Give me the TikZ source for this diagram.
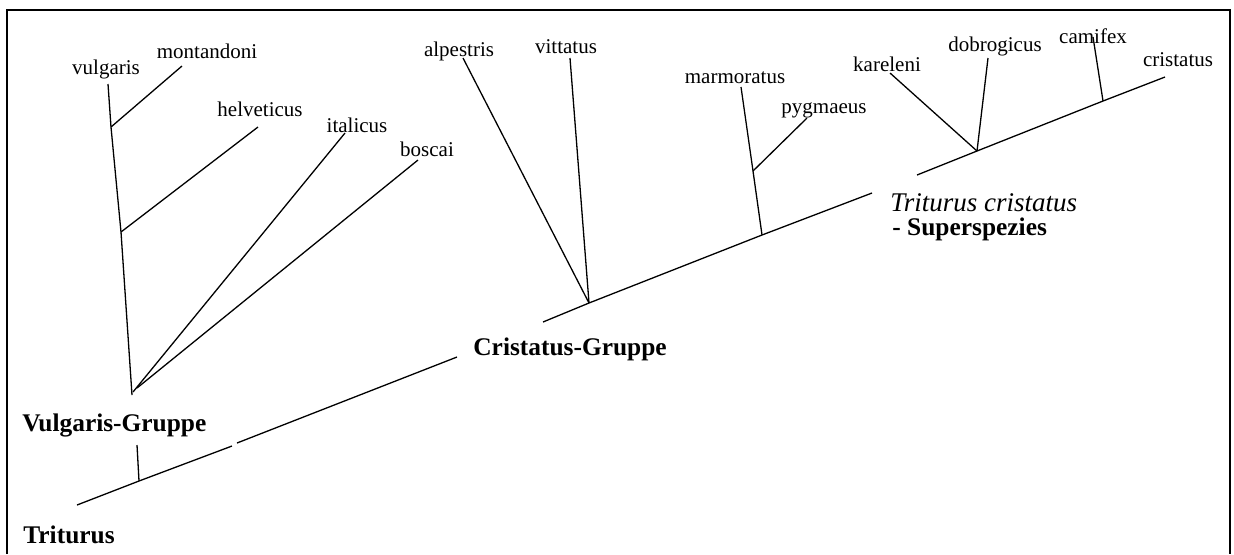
\documentclass[tikz,border=0pt]{standalone}
\usepackage{fontspec}
\setmainfont{Liberation Serif}
\begin{document}
\begin{tikzpicture}[x=0.5pt,y=-0.5pt,
  branch/.style={line width=0.65pt},
  frame/.style={line width=1.3pt},
  sp/.style={font=\fontsize{10.5}{12}\selectfont, inner sep=0pt, anchor=base},
  grp/.style={font=\fontsize{12.7}{14}\selectfont\bfseries, inner sep=0pt, anchor=base west},
  itl/.style={font=\fontsize{13.5}{15}\selectfont\itshape, inner sep=0pt, anchor=base west},
]
\useasboundingbox (0,0) rectangle (1234,554);
\draw[frame] (7,554) -- (7,10) -- (1230,10) -- (1230,554);

% species labels
\node[sp] (lvul) at (106,74) {vulgaris};
\node[sp] (lmon) at (207,58) {montandoni};
\node[sp] (lhel) at (260,116) {helveticus};
\node[sp] (lita) at (357,132) {italicus};
\node[sp] (lbos) at (427,156) {boscai};
\node[sp] (lalp) at (459,56) {alpestris};
\node[sp] (lvit) at (566,53) {vittatus};
\node[sp] (lmar) at (735,83) {marmoratus};
\node[sp] (lpyg) at (824,113) {pygmaeus};
\node[sp] (lkar) at (887,71) {kareleni};
\node[sp] (ldob) at (995,51) {dobrogicus};
\node[sp] (lcam) at (1093,43) {camifex};
\node[sp] (lcri) at (1178,66) {cristatus};

% group labels
\node[grp] (gvul) at (22,431) {Vulgaris-Gruppe};
\node[grp] (gtri) at (23,543) {Triturus};
\node[grp] (gcri) at (473,355) {Cristatus-Gruppe};
\node[itl] (gtc) at (890,211) {Triturus cristatus};
\node[grp] (gsup) at (892,235) {- Superspezies};

% Vulgaris group coordinates
\coordinate (vt) at (108,84);
\coordinate (vm) at (111,127);
\coordinate (vh) at (121,232);
\coordinate (vb) at (132,395);
\coordinate (vi) at (133,392);
\coordinate (vbo) at (137,388);
\coordinate (tmon) at (182,66);
\coordinate (thel) at (258,127);
\coordinate (tita) at (345,133);
\coordinate (tbos) at (418,160);

\draw[branch] (vt) -- (vm) -- (vh) -- (vb);
\draw[branch] (vm) -- (tmon);
\draw[branch] (vh) -- (thel);
\draw[branch] (vi) -- (tita);
\draw[branch] (vbo) -- (tbos);

% Triturus stem
\coordinate (T0) at (77,505);
\coordinate (tk) at (139,481);
\coordinate (tkt) at (137,445);
\coordinate (g1) at (232,446);
\coordinate (g2) at (237,443);
\coordinate (T1) at (457,357);
\draw[branch] (T0) -- (tk) -- (g1);
\draw[branch] (g2) -- (T1);
\draw[branch] (tkt) -- (tk);

% Cristatus group
\coordinate (C0) at (543,322);
\coordinate (Cj) at (589,303);
\coordinate (Cm) at (762,235);
\coordinate (C1) at (872,193);
\coordinate (Cp) at (753,171);
\coordinate (talp) at (463,58);
\coordinate (tvit) at (570,58);
\coordinate (tmar) at (741,87);
\coordinate (tpyg) at (807,118);
\draw[branch] (C0) -- (Cj) -- (Cm) -- (C1);
\draw[branch] (talp) -- (Cj);
\draw[branch] (tvit) -- (Cj);
\draw[branch] (tmar) -- (Cp) -- (Cm);
\draw[branch] (Cp) -- (tpyg);

% Superspecies
\coordinate (S0) at (917,175);
\coordinate (Sk) at (977,151);
\coordinate (Sc) at (1103,101);
\coordinate (S1) at (1165,77);
\coordinate (tkar) at (890,73);
\coordinate (tdob) at (988,58);
\coordinate (tcam) at (1093,37);
\draw[branch] (S0) -- (Sk) -- (Sc) -- (S1);
\draw[branch] (tkar) -- (Sk);
\draw[branch] (tdob) -- (Sk);
\draw[branch] (tcam) -- (Sc);
\end{tikzpicture}
\end{document}
